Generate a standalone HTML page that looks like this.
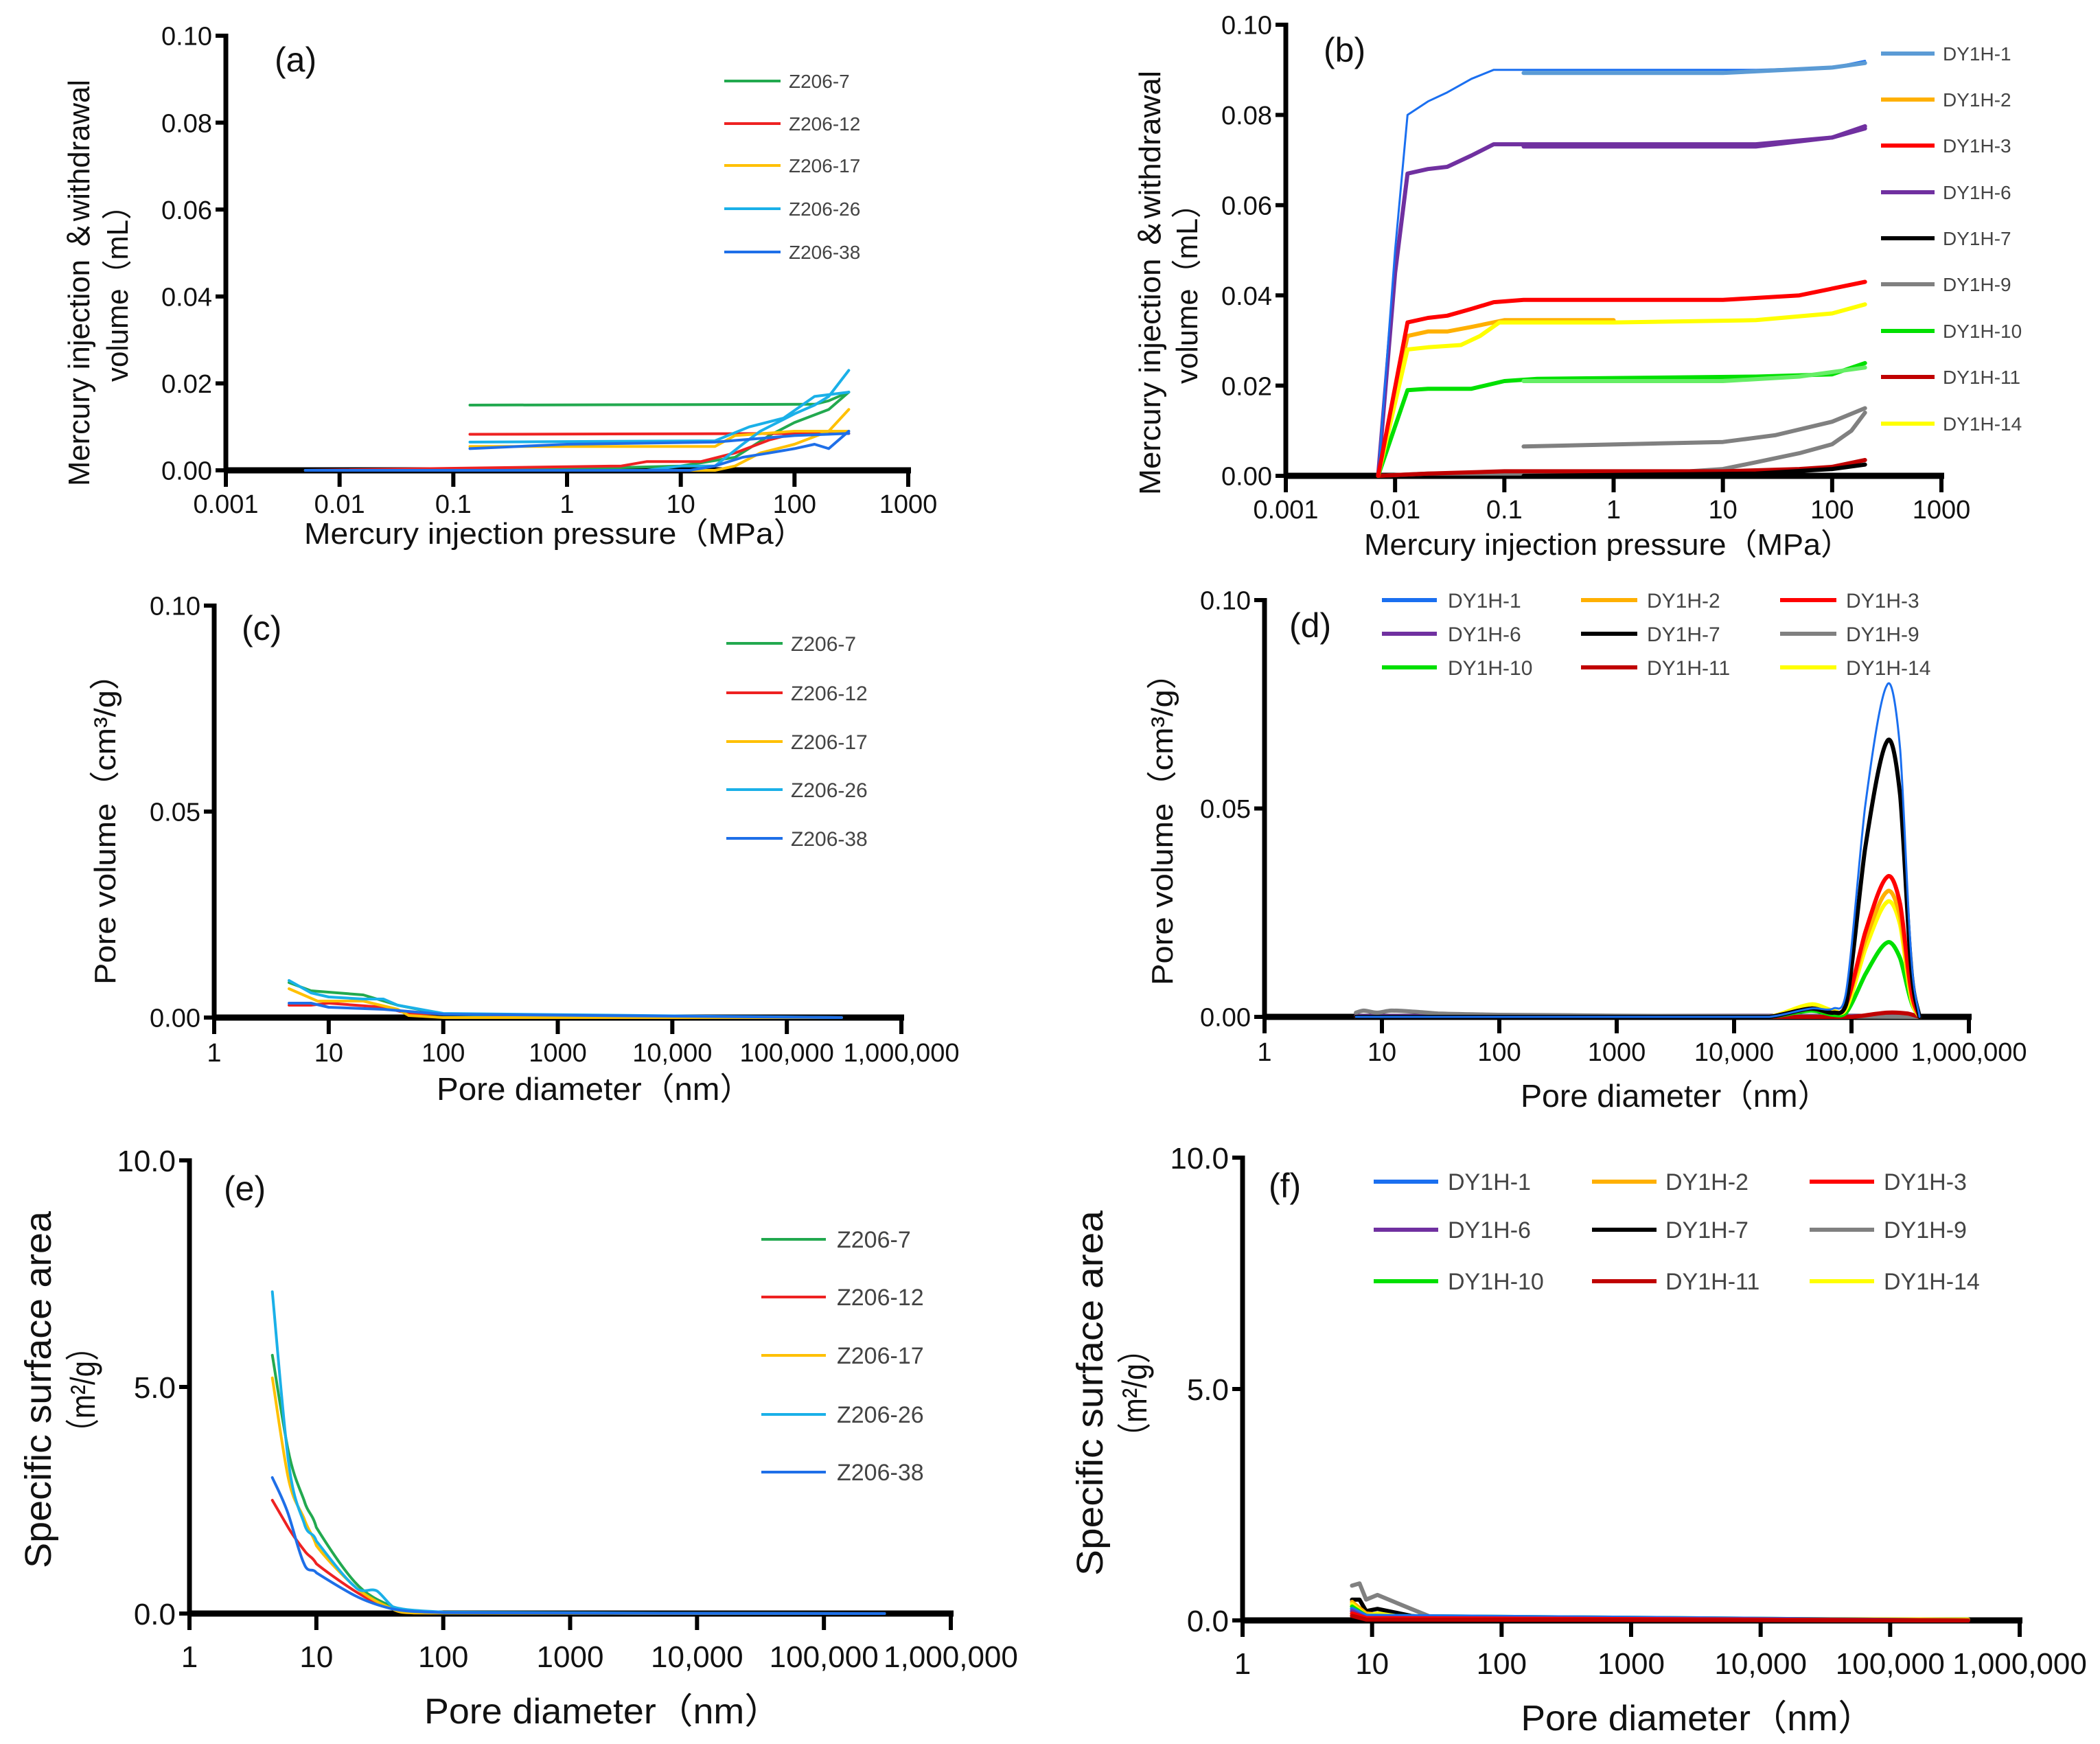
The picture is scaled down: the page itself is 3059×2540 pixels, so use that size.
<!DOCTYPE html>
<html><head><meta charset="utf-8">
<style>
html,body{margin:0;padding:0;background:#fff;}
svg{display:block;}
.tk{font-family:"Liberation Sans Narrow","Liberation Sans",sans-serif;fill:#111;}
.ti{font-family:"Liberation Sans","Noto Sans CJK SC",sans-serif;fill:#111;}
.tn{font-family:"Liberation Sans Narrow","Liberation Sans","Noto Sans CJK SC",sans-serif;fill:#111;}
.lg{font-family:"Liberation Sans Narrow","Liberation Sans",sans-serif;fill:#444;}
</style></head>
<body>
<svg id="fig" width="3059" height="2540" viewBox="0 0 3059 2540" xmlns="http://www.w3.org/2000/svg">
<rect width="3059" height="2540" fill="#fff"/>
</svg>
<script>
// ---------- DATA ----------
const aNames = ["Z206-7","Z206-12","Z206-17","Z206-26","Z206-38"];
const aColors = ["#22a94f","#ee2222","#ffc000","#1ab0e8","#1e6fe8"];
const aInjX = [[0.005,1,10,30,60,100,200,300],[0.005,3,5,15,30,60,100,300],[0.005,20,30,50,100,200,300],[0.005,5,10,20,35,50,100,150,200,300],[0.005,12,20,35,60,100,150,200,300]];
const aInjY = [[0,0.0003,0.001,0.003,0.008,0.011,0.014,0.018],[0,0.001,0.002,0.002,0.004,0.007,0.0085,0.0085],[0,0,0.001,0.004,0.006,0.009,0.014],[0,0,0.001,0.001,0.006,0.009,0.013,0.015,0.017,0.023],[0,0,0.001,0.003,0.004,0.005,0.006,0.005,0.009]];
const aWdX = [[0.14,150,200,300],[0.14,300],[0.14,20,30,100,300],[0.14,20,40,80,150,300],[0.14,1,20,100,300]];
const aWdY = [[0.015,0.0152,0.016,0.018],[0.0083,0.0085],[0.0055,0.0055,0.008,0.009,0.009],[0.0065,0.0068,0.01,0.012,0.017,0.018],[0.005,0.006,0.0065,0.008,0.0085]];
const aYTicks = ["0.00","0.02","0.04","0.06","0.08","0.10"];
const aXTicks = ["0.001","0.01","0.1","1","10","100","1000"];

const bNames = ["DY1H-1","DY1H-2","DY1H-3","DY1H-6","DY1H-7","DY1H-9","DY1H-10","DY1H-11","DY1H-14"];
const bColors = ["#5b9bd5","#ffb000","#ff0000","#7030a0","#000000","#808080","#00e000","#c00000","#ffff00"];
const bInjColors = ["#1a6ff0","#ffb000","#ff0000","#7030a0","#000000","#808080","#00e000","#c00000","#ffff00"];
const bInjX = [[0.007,0.01,0.013,0.02,0.03,0.05,0.08,1,20,100,200],[0.007,0.013,0.02,0.03,0.05,0.1,1],[0.007,0.013,0.02,0.03,0.05,0.08,0.15,10,50,200],[0.007,0.01,0.013,0.02,0.03,0.05,0.08,1,20,100,200],[0.15,20,100,200],[0.007,0.02,1,5,10,20,50,100,150,200],[0.007,0.013,0.02,0.05,0.1,0.2,20,100,200],[0.007,0.02,0.1,10,50,100,200],[0.007,0.013,0.02,0.04,0.06,0.09,1,20,100,200]];
const bInjY = [[0,0.05,0.08,0.083,0.085,0.088,0.09,0.09,0.09,0.0905,0.092],[0,0.031,0.032,0.032,0.033,0.0345,0.0345],[0,0.034,0.035,0.0355,0.037,0.0385,0.039,0.039,0.04,0.043],[0,0.045,0.067,0.068,0.0685,0.071,0.0735,0.0735,0.0735,0.075,0.0775],[0,0.0005,0.0015,0.0025],[0,0.0005,0.0005,0.001,0.0015,0.003,0.005,0.007,0.01,0.014],[0,0.019,0.0193,0.0193,0.021,0.0215,0.022,0.0225,0.025],[0,0.0005,0.001,0.001,0.0015,0.002,0.0035],[0,0.028,0.0285,0.029,0.031,0.034,0.034,0.0345,0.036,0.038]];
const bWdX = [[0.15,10,100,200],[],[],[0.15,20,100,200],[],[0.15,10,30,100,200],[0.15,10,50,200],[],[]];
const bWdY = [[0.0893,0.0893,0.0905,0.0915],[],[],[0.073,0.073,0.075,0.077],[],[0.0065,0.0075,0.009,0.012,0.015],[0.021,0.021,0.022,0.024],[],[]];
const bWdColors = ["#5b9bd5","","","#7030a0","","#808080","#66ee66","",""];

const cX = [[4.5,7,20,40,100,1000,300000],[4.5,7,10,30,50,200,500,300000],[4.5,8,20,40,50,100,300000],[4.5,7,10,20,30,40,100,300000],[4.5,7,10,30,100,300000]];
const cY = [[0.0085,0.0065,0.0055,0.003,0.0008,0.0003,0],[0.003,0.003,0.0035,0.0025,0.001,0.0008,0.0005,0],[0.007,0.004,0.004,0.002,0.0005,0,0],[0.009,0.006,0.005,0.0045,0.0045,0.003,0.001,0],[0.0035,0.0035,0.0025,0.002,0.0008,0]];
const cYTicks = ["0.00","0.05","0.10"];
const nmTicks = ["1","10","100","1000","10,000","100,000","1,000,000"];

const dColors = ["#1a6ff0","#ffb000","#ff0000","#7030a0","#000000","#808080","#00e000","#c00000","#ffff00"];
const dX = [[6,20000,45000,70000,90000,130000,200000,260000,320000,380000],[6,20000,45000,70000,90000,130000,200000,260000,320000,380000],[6,20000,45000,70000,90000,130000,200000,260000,320000,380000],[6,380000],[6,20000,45000,70000,90000,130000,200000,260000,320000,380000],[6,7,9,12,20,30,100,1000,380000],[6,20000,45000,70000,90000,130000,200000,260000,320000,380000],[6,100000,200000,300000,380000],[6,20000,45000,70000,90000,130000,200000,260000,320000,380000]];
const dY = [[0,0,0.002,0.002,0.006,0.05,0.0795,0.064,0.016,0],[0,0,0.002,0.001,0.003,0.018,0.030,0.024,0.006,0],[0,0,0.002,0.001,0.003,0.02,0.0335,0.027,0.007,0],[0.0002,0.0002],[0,0,0.002,0.001,0.003,0.04,0.066,0.053,0.013,0],[0.001,0.0015,0.001,0.0015,0.0012,0.0008,0.0005,0.0003,0],[0,0,0.0015,0.0005,0.001,0.01,0.0178,0.014,0.004,0],[0,0,0.001,0.0008,0],[0,0,0.003,0.0015,0.002,0.016,0.0275,0.022,0.005,0]];

const eX = [[4.5,6,8,10,20,40,100,300000],[4.5,6,8,10,20,40,100,300000],[4.5,6,8,10,20,40,60,300000],[4.5,6,8,10,20,30,40,100,300000],[4.5,6,8,10,20,40,100,300000]];
const eY = [[5.7,3.6,2.5,1.9,0.7,0.15,0.02,0],[2.5,1.9,1.4,1.1,0.5,0.1,0.02,0],[5.2,3.0,2.1,1.5,0.6,0.1,0.01,0],[7.1,3.4,2.0,1.6,0.6,0.5,0.15,0.03,0],[3.0,2.2,1.1,0.9,0.4,0.1,0.02,0]];
const eYTicks = ["0.0","5.0","10.0"];

const fX = [[7,9,400000],[7,9,20,400000],[7,9,400000],[7,9,400000],[7,8,9,11,20,40,400000],[7,8,9,11,20,30,100,400000],[7,9,400000],[7,9,400000],[7,9,11,20,400000]];
const fY = [[0.25,0.1,0],[0.4,0.15,0.05,0.01],[0.15,0.05,0],[0.2,0.05,0],[0.45,0.45,0.2,0.25,0.1,0.02,0],[0.75,0.8,0.45,0.55,0.25,0.05,0.02,0],[0.3,0.1,0],[0.1,0.02,0],[0.35,0.1,0.15,0.05,0.02]];

// ---------- DRAWING ----------
const svg = document.getElementById('fig');
const NS = "http://www.w3.org/2000/svg";
function mk(tag, attrs, parent){ const e=document.createElementNS(NS,tag); for(const k in attrs) e.setAttribute(k,attrs[k]); (parent||svg).appendChild(e); return e; }
function txt(s, attrs, parent){ const e=mk('text',attrs,parent); e.textContent=s; return e; }

function panel(cfg){
  const g = mk('g',{});
  
  
  const sx = v => cfg.xl + (Math.log10(v)-cfg.lmin)/(cfg.lmax-cfg.lmin)*(cfg.xr-cfg.xl);
  const sy = v => cfg.yb - v/cfg.ymax*(cfg.yb-cfg.yt);
  cfg.sx=sx; cfg.sy=sy; cfg.g=g;
  const ya = mk('line',{x1:cfg.xl,y1:cfg.yt-3,x2:cfg.xl,y2:cfg.yb+3,stroke:'#000','stroke-width':7},g);
  
  
  const xa = mk('line',{x1:cfg.xaStart||cfg.xl,y1:cfg.yb,x2:cfg.xr+4,y2:cfg.yb,stroke:'#000','stroke-width':9},g);
  
  
  cfg.yTicks.forEach((t,i)=>{
    const v=parseFloat(t), y=sy(v);
    mk('line',{x1:cfg.xl-15,y1:y,x2:cfg.xl,y2:y,stroke:'#000','stroke-width':6},g);
    const tl=txt(t,{x:cfg.xl-20,y:y+cfg.tfs*0.36,'text-anchor':'end','font-size':cfg.tfs,class:'tk'},g);
    
    
  });
  cfg.xTicks.forEach((t,i)=>{
    const x=cfg.xl + i/(cfg.xTicks.length-1)*(cfg.xr-cfg.xl);
    mk('line',{x1:x,y1:cfg.yb,x2:x,y2:cfg.yb+24,stroke:'#000','stroke-width':6},g);
    const tl=txt(t,{x:x,y:cfg.yb+cfg.xlo,'text-anchor':'middle','font-size':cfg.tfs,class:'tk'},g);
    
    
  });
  const pl=txt(cfg.label,{x:cfg.lx,y:cfg.ly,'font-size':50,class:'ti'},g);
  
  
  const xt=txt(cfg.xTitle,{x:cfg.xtx,y:cfg.xty,'text-anchor':'middle','font-size':cfg.xtfs,class:'tn',textLength:cfg.xtl,lengthAdjust:'spacingAndGlyphs'},g);
  
  
  cfg.yTitles.forEach(yt=>{
    const e=txt(yt.t,{x:0,y:0,'text-anchor':'middle','font-size':yt.fs,class:'ti',textLength:yt.len,lengthAdjust:'spacingAndGlyphs',transform:`translate(${yt.x},${yt.y}) rotate(-90)`},g);
    
    
  });
  return cfg;
}
function series(cfg, xs, ys, color, w, name, smooth){
  if(!xs.length) return;
  const P = xs.map((x,i)=>[cfg.sx(x), cfg.sy(ys[i])]);
  let d = 'M'+P[0][0].toFixed(1)+','+P[0][1].toFixed(1);
  if(smooth && P.length>2){
    for(let i=0;i<P.length-1;i++){
      const p0=P[Math.max(0,i-1)], p1=P[i], p2=P[i+1], p3=P[Math.min(P.length-1,i+2)];
      const dx=p2[0]-p1[0];
      const t=0.18;
      let c1=[p1[0]+Math.min(Math.abs((p2[0]-p0[0])*t),dx/3), p1[1]+(p2[1]-p0[1])*t];
      let c2=[p2[0]-Math.min(Math.abs((p3[0]-p1[0])*t),dx/3), p2[1]-(p3[1]-p1[1])*t];
      c1[1]=Math.min(c1[1],cfg.yb); c2[1]=Math.min(c2[1],cfg.yb);
      d+=` C${c1[0].toFixed(1)},${c1[1].toFixed(1)} ${c2[0].toFixed(1)},${c2[1].toFixed(1)} ${p2[0].toFixed(1)},${p2[1].toFixed(1)}`;
    }
  } else {
    for(let i=1;i<P.length;i++) d+=' L'+P[i][0].toFixed(1)+','+P[i][1].toFixed(1);
  }
  const p = mk('path',{d:d,fill:'none',stroke:color,'stroke-width':w,'stroke-linejoin':'round','stroke-linecap':'round'},cfg.g);
  
  
}
function legendEntry(cfg, x1, x2, tx, y, color, label, fs, w){
  const le = mk('g',{},cfg.g);
  
  
  mk('line',{x1:x1,y1:y,x2:x2,y2:y,stroke:color,'stroke-width':w},le);
  txt(label,{x:tx,y:y+fs*0.36,'font-size':fs,class:'lg'},le);
}

const A = panel({name:'panel-a',label:'(a)',lx:400,ly:104,xl:329,xr:1323,lmin:-3,lmax:3,yt:52,yb:685,ymax:0.10,xaStart:329,
  yTicks:aYTicks,xTicks:aXTicks,tfs:38,xlo:62,xTitle:'Mercury injection pressure（MPa）',xtx:808,xty:792,xtfs:44,xtl:730,
  yTitles:[{t:'Mercury injection ＆withdrawal',x:130,y:412,fs:44,len:592},{t:'volume（mL）',x:186,y:417,fs:44,len:278}]});
aNames.forEach((n,i)=>{
  series(A,aInjX[i],aInjY[i],aColors[i],4,'injection-'+n,false);
  series(A,aWdX[i],aWdY[i],aColors[i],4,'withdrawal-'+n,false);
  legendEntry(A,1055,1137,1149,[118,180,241,304,367][i],aColors[i],n,28,4);
});

const B = panel({name:'panel-b',label:'(b)',lx:1928,ly:90,xl:1873,xr:2828,lmin:-3,lmax:3,yt:36,yb:693,ymax:0.10,
  yTicks:aYTicks,xTicks:aXTicks,tfs:38,xlo:62,xTitle:'Mercury injection pressure（MPa）',xtx:2342,xty:808,xtfs:44,xtl:710,
  yTitles:[{t:'Mercury injection ＆withdrawal',x:1690,y:412,fs:44,len:618},{t:'volume（mL）',x:1744,y:417,fs:44,len:284}]});
[5,7,4,6,3,0,1,8,2].forEach(i=>{
  series(B,bInjX[i],bInjY[i],bInjColors[i],i==0?3:6,'injection-'+bNames[i],false);
  series(B,bWdX[i],bWdY[i],bWdColors[i]||bColors[i],6,'withdrawal-'+bNames[i],false);
});
bNames.forEach((n,i)=>legendEntry(B,2740,2818,2830,[78,145,212,280,347,414,482,549,617][i],bColors[i],n,28,6));

const C = panel({name:'panel-c',label:'(c)',lx:352,ly:932,xl:312,xr:1313,lmin:0,lmax:6,yt:882,yb:1482,ymax:0.10,
  yTicks:cYTicks,xTicks:nmTicks,tfs:38,xlo:64,xTitle:'Pore diameter（nm）',xtx:866,xty:1602,xtfs:46,xtl:460,
  yTitles:[{t:'Pore volume（cm³/g）',x:168,y:1196,fs:44,len:476}]});
aNames.forEach((n,i)=>{
  series(C,cX[i],cY[i],aColors[i],4,'series-'+n,false);
  legendEntry(C,1058,1140,1152,[937,1009,1080,1150,1221][i],aColors[i],n,30,4);
});

const D = panel({name:'panel-d',label:'(d)',lx:1878,ly:928,xl:1842,xr:2868,lmin:0,lmax:6,yt:874,yb:1481,ymax:0.10,
  yTicks:cYTicks,xTicks:nmTicks,tfs:38,xlo:64,xTitle:'Pore diameter（nm）',xtx:2440,xty:1612,xtfs:46,xtl:450,
  yTitles:[{t:'Pore volume（cm³/g）',x:1708,y:1196,fs:44,len:478}]});
[3,5,7,6,8,1,2,4,0].forEach(i=>series(D,dX[i],dY[i],dColors[i],i==0?3:6,'series-'+bNames[i],true));
bNames.forEach((n,i)=>{
  const c=i%3, r=Math.floor(i/3);
  legendEntry(D,[2013,2303,2593][c],[2093,2385,2675][c],[2109,2399,2689][c],[874,923,972][r],dColors[i],n,30,6);
});

const E = panel({name:'panel-e',label:'(e)',lx:326,ly:1748,xl:276,xr:1385,lmin:0,lmax:6,yt:1690,yb:2350,ymax:10,
  yTicks:eYTicks,xTicks:nmTicks,tfs:44,xlo:78,xTitle:'Pore diameter（nm）',xtx:878,xty:2510,xtfs:52,xtl:520,
  yTitles:[{t:'Specific surface area',x:74,y:2024,fs:54,len:520},{t:'（m²/g）',x:138,y:2024,fs:50,len:168}]});
aNames.forEach((n,i)=>{
  series(E,eX[i],eY[i],aColors[i],4,'series-'+n,true);
  legendEntry(E,1109,1203,1219,[1805,1889,1974,2060,2144][i],aColors[i],n,34,4);
});

const F = panel({name:'panel-f',label:'(f)',lx:1848,ly:1744,xl:1810,xr:2942,lmin:0,lmax:6,yt:1686,yb:2360,ymax:10,
  yTicks:eYTicks,xTicks:nmTicks,tfs:44,xlo:78,xTitle:'Pore diameter（nm）',xtx:2473,xty:2520,xtfs:52,xtl:515,
  yTitles:[{t:'Specific surface area',x:1606,y:2029,fs:54,len:532},{t:'（m²/g）',x:1670,y:2029,fs:50,len:172}]});
[5,4,1,8,6,0,3,2,7].forEach(i=>series(F,fX[i],fY[i],dColors[i],6,'series-'+bNames[i],false));
bNames.forEach((n,i)=>{
  const c=i%3, r=Math.floor(i/3);
  legendEntry(F,[2001,2319,2636][c],[2095,2413,2730][c],[2109,2426,2744][c],[1721,1791,1866][r],dColors[i],n,34,6);
});
</script>
</body></html>
